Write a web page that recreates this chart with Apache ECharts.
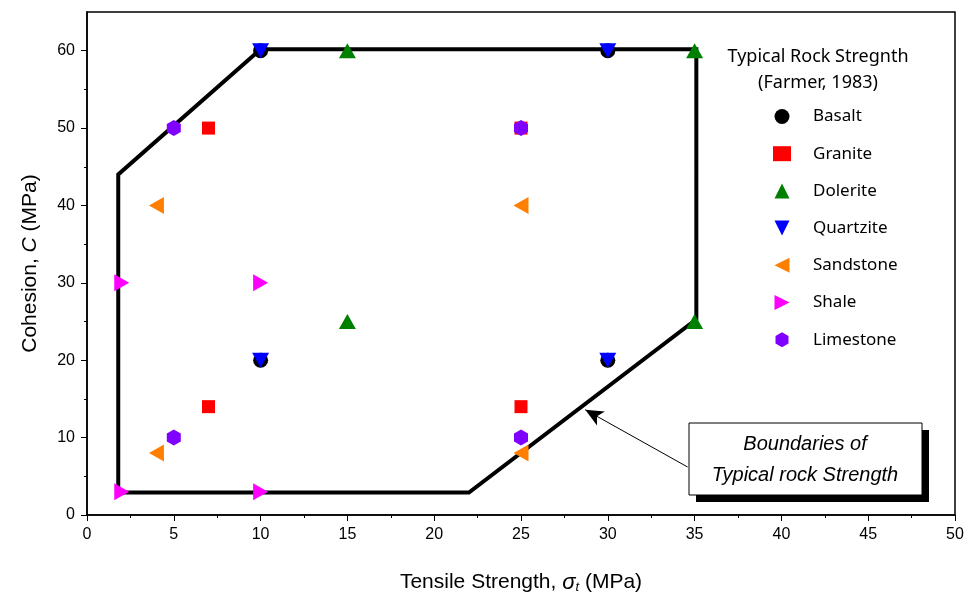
<!DOCTYPE html>
<html>
<head>
<meta charset="utf-8">
<script src="https://cdn.jsdelivr.net/npm/echarts@6/dist/echarts.min.js"></script>
<style>html,body{margin:0;padding:0;background:#fff}#c{width:971px;height:604px}</style>
</head>
<body>
<div id="c"></div>
<script>
// ---- data ----
const basalt     = [[10,60],[30,60],[10,20],[30,20]];
const granite    = [[7,50],[25,50],[7,14],[25,14]];
const dolerite   = [[15,60],[35,60],[15,25],[35,25]];
const quartzite  = [[10,60],[30,60],[10,20],[30,20]];
const sandstone  = [[4,40],[25,40],[4,8],[25,8]];
const shale      = [[2,30],[10,30],[2,3],[10,3]];
const limestone  = [[5,50],[25,50],[5,10],[25,10]];
const boundary   = [[1.8,2.9],[1.8,44],[10,60.2],[35.1,60.2],[35.1,25.3],[22,2.9],[1.8,2.9]];
const arrowFrom  = [34.6,6.2];
const arrowTo    = [28.7,13.6];
const xTicks = [0,5,10,15,20,25,30,35,40,45,50];
const yTicks = [0,10,20,30,40,50,60];
const legendTitle = ['Typical Rock Stregnth','(Farmer, 1983)'];
const boxText = ['Boundaries of','Typical rock Strength'];

const chart = echarts.init(document.getElementById('c'));
const FONT = 'Liberation Sans';
const LFONT = 'Noto Sans';

const hex = 'path://M0,-1L0.866,-0.5L0.866,0.5L0,1L-0.866,0.5L-0.866,-0.5Z';
const down = 'path://M0,0L2,0L1,2Z';
const left = 'path://M0,1L2,0L2,2Z';
const right = 'path://M0,0L2,1L0,2Z';
const up = 'path://M1,0L2,2L0,2Z';

const specs = [
  ['Basalt', basalt, 'circle', 15, '#000000', 2],
  ['Granite', granite, 'rect', 13, '#ff0000', 2],
  ['Dolerite', dolerite, up, [17,15], '#008000', 3],
  ['Quartzite', quartzite, down, [17,15], '#0000ff', 3],
  ['Sandstone', sandstone, left, [15,17], '#ff8000', 3],
  ['Shale', shale, right, [15,17], '#ff00ff', 3],
  ['Limestone', limestone, hex, [14,16], '#8000ff', 4]
];

const scatterSeries = specs.map(s => ({
  name:s[0], type:'scatter', data:s[1], symbol:s[2], symbolSize:s[3], z:s[5],
  itemStyle:{color:s[4], opacity:1}, emphasis:{disabled:true}
}));

chart.setOption({
  animation:false,
  backgroundColor:'#fff',
  grid:{left:87, top:12, right:16, bottom:89, show:true, borderColor:'#000', borderWidth:1.5, backgroundColor:'transparent'},
  xAxis:{type:'value', min:0, max:50, interval:5,
    axisLine:{lineStyle:{color:'#000', width:1.5}},
    axisTick:{show:true, length:6, lineStyle:{color:'#000', width:1}},
    minorTick:{show:true, splitNumber:2, length:3, lineStyle:{color:'#000', width:1}},
    splitLine:{show:false},
    axisLabel:{color:'#000', fontFamily:FONT, fontSize:16, margin:12},
    name:'{a|Tensile Strength, }{s|σ}{t|t}{a| (MPa)}',
    nameLocation:'middle', nameGap:56,
    nameTextStyle:{rich:{
      a:{fontFamily:FONT, fontSize:21, color:'#000'},
      s:{fontFamily:FONT, fontSize:22, fontStyle:'italic', color:'#000'},
      t:{fontFamily:FONT, fontSize:13, fontStyle:'italic', color:'#000', verticalAlign:'bottom', padding:[10,0,0,0]}
    }}
  },
  yAxis:{type:'value', min:0, max:65, interval:10,
    axisLine:{lineStyle:{color:'#000', width:1.5}},
    axisTick:{show:true, length:6, lineStyle:{color:'#000', width:1}, customValues:yTicks},
    minorTick:{show:true, splitNumber:2, length:3, lineStyle:{color:'#000', width:1}},
    splitLine:{show:false},
    axisLabel:{color:'#000', fontFamily:FONT, fontSize:16, margin:12, customValues:yTicks},
    name:'{a|Cohesion, }{i|C}{a| (MPa)}',
    nameLocation:'middle', nameGap:46,
    nameTextStyle:{rich:{
      a:{fontFamily:FONT, fontSize:21, color:'#000'},
      i:{fontFamily:FONT, fontSize:21, fontStyle:'italic', color:'#000'}
    }}
  },
  legend:{orient:'vertical', left:768, top:103, itemWidth:18, itemHeight:15, itemGap:20.2,
    selectedMode:false,
    textStyle:{fontFamily:LFONT, fontSize:17, color:'#000', padding:[0,0,0,17]},
    data:specs.map(s => ({name:s[0], icon:s[2], itemStyle:{color:s[4]}}))},
  graphic:[
    {type:'text', x:818, y:44, style:{text:legendTitle.join('\n'), font:'18px "Noto Sans"', fill:'#000', align:'center', lineHeight:26}, silent:true},
    {type:'rect', shape:{x:696, y:430, width:233, height:72}, style:{fill:'#000'}, z:100},
    {type:'rect', shape:{x:689, y:423, width:233, height:72}, style:{fill:'#fff', stroke:'#000', lineWidth:1}, z:101},
    {type:'text', x:805, y:429, style:{text:boxText.join('\n'), font:'italic 20px "Liberation Sans"', fill:'#000', align:'center', lineHeight:31}, z:102}
  ],
  series:[
    {type:'line', data:boundary, symbol:'none', z:1, silent:true,
      lineStyle:{color:'#000', width:4, join:'miter', cap:'butt'},
      markLine:{silent:true, symbol:['none','arrow'], symbolSize:[12,18], animation:false,
        lineStyle:{color:'#000', width:1, type:'solid'}, label:{show:false},
        data:[[{coord:arrowFrom},{coord:arrowTo}]]}}
  ].concat(scatterSeries)
});
</script>
</body>
</html>
